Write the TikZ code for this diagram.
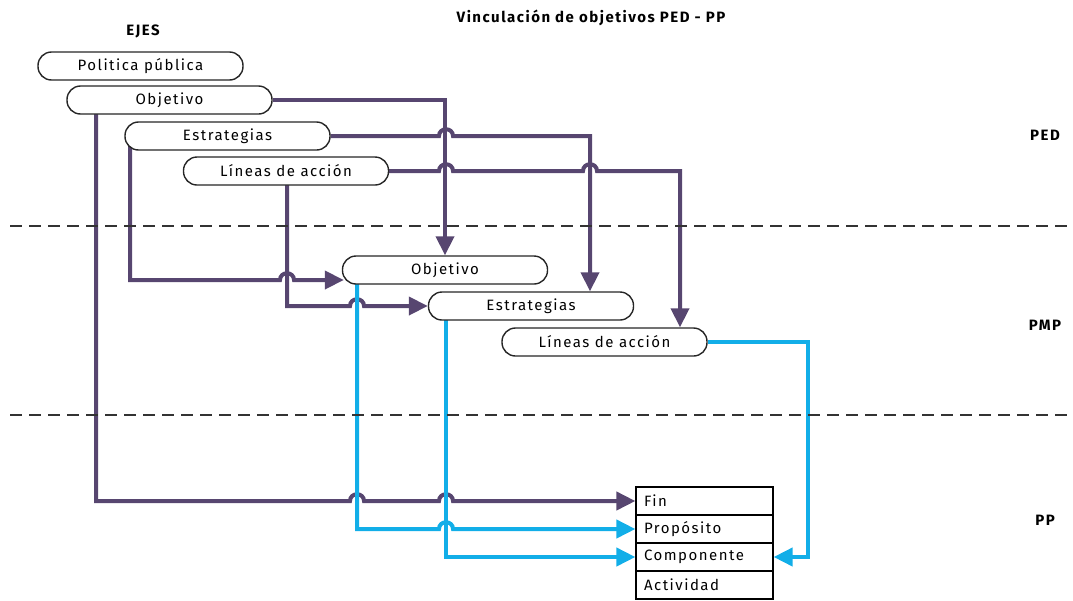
\documentclass[tikz,border=0pt]{standalone}
\usepackage{fontspec}
\setmainfont{Fira Sans}
\usetikzlibrary{arrows.meta,calc}
\definecolor{pur}{HTML}{574670}
\definecolor{cy}{HTML}{12AEE8}
\pgfdeclarelayer{bg}
\pgfsetlayers{bg,main}
\newfontfamily\spaced[LetterSpace=10]{Fira Sans}
\begin{document}
\begin{tikzpicture}[x=1pt,y=-1pt,
 pill/.style={draw=black!85, line width=1.4pt, rounded corners=13.5pt, minimum width=205pt, minimum height=28pt, inner sep=0pt, font=\spaced\fontsize{15}{17}\selectfont, fill=white},
 cell/.style={draw=black, line width=1.2pt, minimum height=28pt, text width=121pt, inner xsep=8pt, inner ysep=0pt, align=left, font=\spaced\fontsize{15}{17}\selectfont, fill=white},
 lbl/.style={font=\spaced\bfseries\fontsize{15}{17}\selectfont},
 conn/.style={line width=4pt, -{Triangle[length=19pt,width=18pt]}},
 pl/.style={conn, draw=pur},
 bl/.style={conn, draw=cy},
 sep/.style={draw=black!80, line width=1.3pt, dash pattern=on 12pt off 7pt}]
\useasboundingbox (0,0) rectangle (1073,600);
% titles
\node[lbl] (title) at (591,18) {Vinculación de objetivos PED - PP};
\node[lbl] (ejes) at (143,31) {EJES};
\node[lbl] (ped) at (1045,135) {PED};
\node[lbl] (pmp) at (1045,325) {PMP};
\node[lbl] (pp) at (1045,520) {PP};
% separators
\coordinate (s1a) at (10,226); \coordinate (s1b) at (1073,226);
\coordinate (s2a) at (10,415); \coordinate (s2b) at (1073,415);
\draw[sep] (s1a) -- (s1b);
\draw[sep] (s2a) -- (s2b);
% EJES pills
\node[pill] (pol) at (140.5,66) {Politica pública};
\node[pill] (eobj) at (169.5,100) {Objetivo};
\node[pill] (eest) at (227.5,136) {Estrategias};
\node[pill] (elin) at (286,171) {Líneas de acción};
% PMP pills
\node[pill] (pobj) at (445,270) {Objetivo};
\node[pill] (pest) at (531,306) {Estrategias};
\node[pill] (plin) at (604.5,342) {Líneas de acción};
% PP table
\node[cell] (fin) at (704.5,501) {Fin};
\node[cell] (prop) at (704.5,529) {Propósito};
\node[cell] (comp) at (704.5,557) {Componente};
\node[cell] (act) at (704.5,585) {Actividad};
% helper columns
\coordinate (c96) at (96,0);
\coordinate (c130) at (130,0);
\coordinate (c287) at (287,0);
\coordinate (c357) at (357,0);
\coordinate (c446) at (446,0);
\coordinate (c590) at (590,0);
\coordinate (c680) at (680,0);
\begin{pgfonlayer}{bg}
% purple connectors
\draw[pl] (eobj.east) -| (pobj.north);
\draw[pl] (eest.east) -- (439,136) .. controls (439,127) and (453,127) .. (453,136) -- (590,136) -- (pest.north -| c590);
\draw[pl] (elin.east) -- (439,171) .. controls (439,162) and (453,162) .. (453,171) -- (583,171) .. controls (583,162) and (597,162) .. (597,171) -- (680,171) -- (plin.north -| c680);
\draw[pl] (eobj.center -| c96) -- (96,501) -- (350,501) .. controls (350,492) and (364,492) .. (364,501) -- (439,501) .. controls (439,492) and (453,492) .. (453,501) -- (fin.west);
\draw[pl] (eest.center -| c130) -- (130,280) -- (280,280) .. controls (280,271) and (294,271) .. (294,280) -- ($(pobj.west)+(2,10)$);
\draw[pl] (elin.center -| c287) -- (287,306) -- (350,306) .. controls (350,297) and (364,297) .. (364,306) -- (pest.west);
% blue connectors
\draw[bl] (pobj.center -| c357) -- (357,529) -- (439,529) .. controls (439,520) and (453,520) .. (453,529) -- (prop.west);
\draw[bl] (pest.center -| c446) -- (446,557) -- (comp.west);
\draw[bl] (plin.east) -- (808,342) -- (808,557) -- (comp.east);
\end{pgfonlayer}
\end{tikzpicture}
\end{document}
